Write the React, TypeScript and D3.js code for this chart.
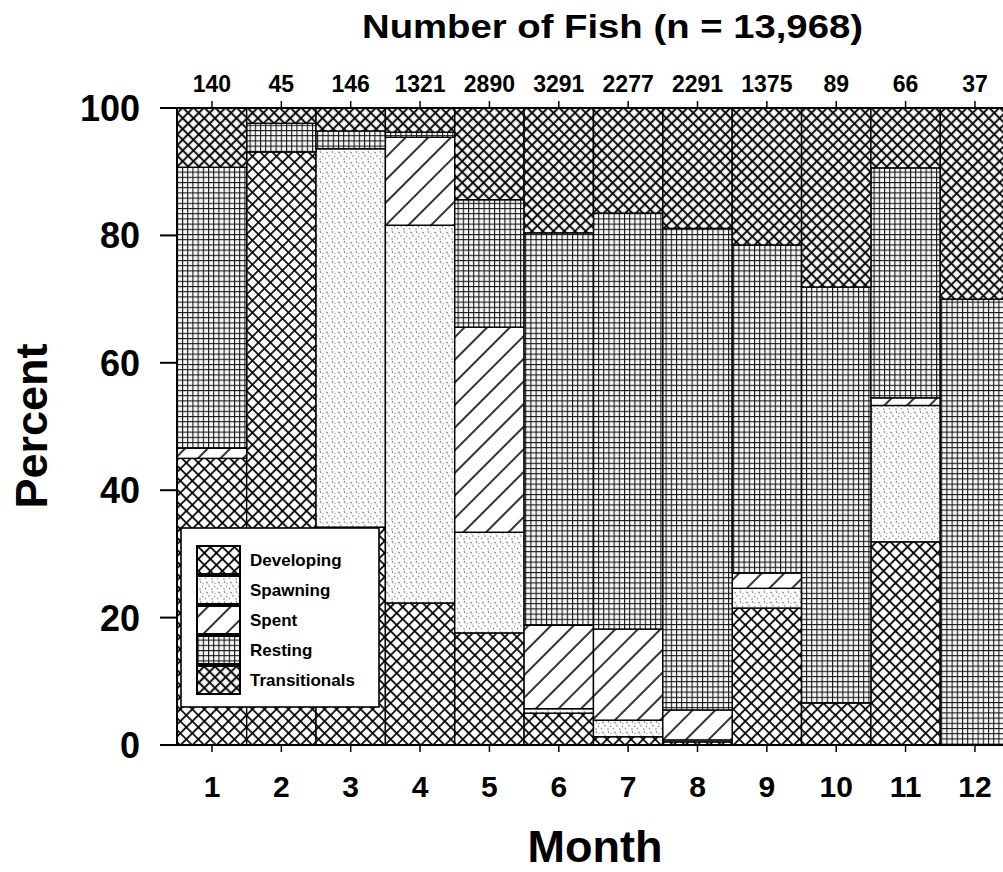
import React from "react";
import * as d3 from "d3";

const months = ["1", "2", "3", "4", "5", "6", "7", "8", "9", "10", "11", "12"];
const fishCounts = ["140", "45", "146", "1321", "2890", "3291", "2277", "2291", "1375", "89", "66", "37"];
const developing = [45.0, 93.1, 34.2, 22.3, 17.6, 5.0, 1.3, 0.5, 21.5, 6.6, 31.9, 0];
const spawning = [0, 0, 59.4, 59.3, 15.8, 0.7, 2.6, 0.3, 3.1, 0, 21.4, 0];
const spent = [1.6, 0, 0, 13.8, 32.2, 13.1, 14.3, 4.7, 2.4, 0, 1.2, 0];
const resting = [44.1, 4.5, 2.8, 0.8, 20.0, 61.6, 65.3, 75.6, 51.5, 65.3, 36.1, 70.0];
const transitionals = [9.3, 2.4, 3.6, 3.8, 14.4, 19.6, 16.5, 18.9, 21.5, 28.1, 9.4, 30.0];
const seriesNames = ["Developing", "Spawning", "Spent", "Resting", "Transitionals"];
const yTicks = [0, 20, 40, 60, 80, 100];

const FONT = "'Liberation Sans', Arial, Helvetica, sans-serif";
const W = 1003;
const H = 872;

export default function App() {
  const x = d3.scaleBand<string>().domain(months).range([177.3, 177.3 + 12 * 69.36]).padding(0);
  const y = d3.scaleLinear().domain([0, 100]).range([745, 108]);

  const table = months.map((m, i) => ({
    month: m,
    Developing: developing[i],
    Spawning: spawning[i],
    Spent: spent[i],
    Resting: resting[i],
    Transitionals: transitionals[i],
  }));
  const stacked = d3.stack<any>().keys(seriesNames)(table);
  const patId: Record<string, string> = {
    Developing: "url(#pDev)",
    Spawning: "url(#pSpawn)",
    Spent: "url(#pSpent)",
    Resting: "url(#pRest)",
    Transitionals: "url(#pTrans)",
  };

  const x0 = 177;
  const yBase = y(0);
  const yTop = y(100);
  const legendRows = seriesNames.map((s, i) => ({ s, top: 546 + i * 30 }));

  return (
    <svg width={W} height={H} style={{ position: "absolute", left: 0, top: 0, background: "#fff" }}>
      <defs>
        <pattern id="pDev" patternUnits="userSpaceOnUse" width="8.5" height="8.5" patternTransform="rotate(45)">
          <rect width="8.5" height="8.5" fill="#fff" />
          <line x1="0" y1="0" x2="8.5" y2="0" stroke="#000" strokeWidth="1.7" />
          <line x1="0" y1="0" x2="0" y2="8.5" stroke="#000" strokeWidth="1.7" />
          <line x1="0" y1="8.5" x2="8.5" y2="8.5" stroke="#000" strokeWidth="1.7" />
          <line x1="8.5" y1="0" x2="8.5" y2="8.5" stroke="#000" strokeWidth="1.7" />
        </pattern>
        <pattern id="pTrans" patternUnits="userSpaceOnUse" width="7.6" height="7.6" patternTransform="rotate(45)">
          <rect width="7.6" height="7.6" fill="#e2e2e2" />
          <circle cx="3.8" cy="3.8" r="1.9" fill="#fff" />
          <line x1="0" y1="0" x2="7.6" y2="0" stroke="#000" strokeWidth="1.7" />
          <line x1="0" y1="0" x2="0" y2="7.6" stroke="#000" strokeWidth="1.7" />
          <line x1="0" y1="7.6" x2="7.6" y2="7.6" stroke="#000" strokeWidth="1.7" />
          <line x1="7.6" y1="0" x2="7.6" y2="7.6" stroke="#000" strokeWidth="1.7" />
        </pattern>
        <pattern id="pSpawn" patternUnits="userSpaceOnUse" width="12" height="10">
          <rect width="12" height="10" fill="#fff" />
          <path d="M2,2 l2,1 M8,1 l1,2 M4,6 l2,0 M10,6 l1,1 M1,9 l1,-1 M7,9 l2,0" stroke="#8a8a8a" strokeWidth="1.1" />
          <circle cx="11" cy="3.5" r="0.7" fill="#999" />
          <circle cx="4" cy="4.2" r="0.6" fill="#aaa" />
        </pattern>
        <pattern id="pSpent" patternUnits="userSpaceOnUse" width="16" height="16" patternTransform="rotate(45)">
          <rect width="16" height="16" fill="#fff" />
          <line x1="0" y1="0" x2="0" y2="16" stroke="#000" strokeWidth="1.6" />
          <line x1="16" y1="0" x2="16" y2="16" stroke="#000" strokeWidth="1.6" />
        </pattern>
        <pattern id="pRest" patternUnits="userSpaceOnUse" width="5.2" height="5.2">
          <rect width="5.2" height="5.2" fill="#f6f6f6" />
          <line x1="0.5" y1="0" x2="0.5" y2="5.2" stroke="#111" strokeWidth="1.1" />
          <line x1="0" y1="0.5" x2="5.2" y2="0.5" stroke="#111" strokeWidth="1.1" />
        </pattern>
      </defs>

      {/* Bars */}
      <g>
        {stacked.map((layer) =>
          layer.map((d, i) => {
            const h = y(d[0]) - y(d[1]);
            if (h <= 0) return null;
            return (
              <rect
                key={layer.key + i}
                x={x(months[i])}
                y={y(d[1])}
                width={x.bandwidth()}
                height={h}
                fill={patId[layer.key]}
                stroke="#000"
                strokeWidth={1.4}
              />
            );
          })
        )}
      </g>

      {/* Axes lines */}
      <line x1={x0} y1={yTop} x2={W} y2={yTop} stroke="#000" strokeWidth={2} />
      <line x1={x0} y1={yBase} x2={W} y2={yBase} stroke="#000" strokeWidth={2} />
      <line x1={x0} y1={yTop} x2={x0} y2={yBase} stroke="#000" strokeWidth={2} />

      {/* Y ticks */}
      {yTicks.map((t) => (
        <g key={t}>
          <line x1={160} x2={x0} y1={y(t)} y2={y(t)} stroke="#000" strokeWidth={2} />
          <text
            x={140}
            y={y(t)}
            dy="0.36em"
            textAnchor="end"
            fontFamily={FONT}
            fontWeight="bold"
            fontSize={36}
          >
            {t}
          </text>
        </g>
      ))}

      {/* X ticks bottom and top */}
      {months.map((m, i) => {
        const cx = (x(m) as number) + x.bandwidth() / 2;
        return (
          <g key={m}>
            <line x1={cx} x2={cx} y1={yBase} y2={yBase + 7} stroke="#000" strokeWidth={1.5} />
            <line x1={cx} x2={cx} y1={yTop} y2={yTop - 7} stroke="#000" strokeWidth={1.5} />
            <text x={cx} y={797} textAnchor="middle" fontFamily={FONT} fontWeight="bold" fontSize={30}>
              {m}
            </text>
            <text x={cx} y={92} textAnchor="middle" fontFamily={FONT} fontWeight="bold" fontSize={23}>
              {fishCounts[i]}
            </text>
          </g>
        );
      })}

      {/* Titles */}
      <text
        x={612.5}
        y={38}
        textAnchor="middle"
        fontFamily={FONT}
        fontWeight="bold"
        fontSize={33}
        textLength={501}
        lengthAdjust="spacingAndGlyphs"
      >
        Number of Fish (n = 13,968)
      </text>
      <text x={595} y={862} textAnchor="middle" fontFamily={FONT} fontWeight="bold" fontSize={45}>
        Month
      </text>
      <text
        transform="translate(47,426) rotate(-90)"
        textAnchor="middle"
        fontFamily={FONT}
        fontWeight="bold"
        fontSize={45}
      >
        Percent
      </text>

      {/* Legend */}
      <g>
        <rect x={181} y={528} width={198} height={179} fill="#fff" stroke="#000" strokeWidth={1.6} />
        {legendRows.map((r) => (
          <g key={r.s}>
            <rect x={197} y={r.top} width={43} height={28} fill={patId[r.s]} stroke="#000" strokeWidth={2} />
            <text
              x={250}
              y={r.top + 14}
              dy="0.36em"
              fontFamily={FONT}
              fontWeight="bold"
              fontSize={17}
            >
              {r.s}
            </text>
          </g>
        ))}
      </g>
    </svg>
  );
}
